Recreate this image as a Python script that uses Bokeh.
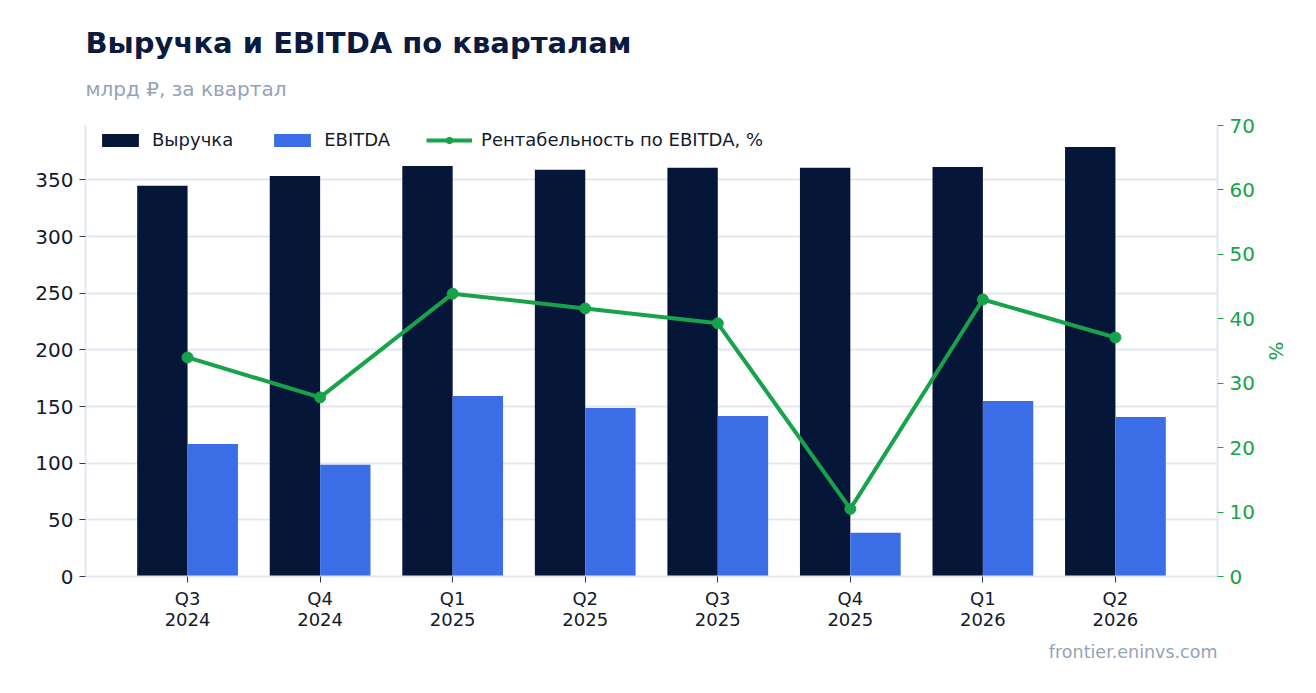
from bokeh.plotting import figure
from bokeh.models import (ColumnDataSource, Range1d, LinearAxis, FixedTicker,
                          Legend, LegendItem, Title)
from bokeh.transform import dodge
from bokeh.embed import file_html
from bokeh.resources import INLINE

quarters = ["Q3\n2024", "Q4\n2024", "Q1\n2025", "Q2\n2025",
            "Q3\n2025", "Q4\n2025", "Q1\n2026", "Q2\n2026"]
revenue = [344.7, 353.5, 362.3, 358.8, 360.6, 360.6, 361.4, 379.0]
ebitda = [117.0, 98.5, 159.2, 148.6, 141.6, 38.7, 154.8, 140.7]
margin = [34.0, 27.8, 43.9, 41.6, 39.3, 10.5, 43.0, 37.1]
y_ticks = [0, 50, 100, 150, 200, 250, 300, 350]
pct_ticks = [0, 10, 20, 30, 40, 50, 60, 70]

idx = list(range(len(quarters)))
src = ColumnDataSource(dict(x=idx, revenue=revenue, ebitda=ebitda, margin=margin))

NAVY = "#061639"
BLUE = "#3b6de6"
GREEN = "#16a34a"
GRID = "#e2e8f0"
FONT = "DejaVu Sans"

p = figure(width=1300, height=677, output_backend="svg", toolbar_location=None,
           x_range=Range1d(-0.77, len(quarters) - 1 + 0.77),
           y_range=Range1d(0, max(revenue) * 1.05),
           min_border_left=85, min_border_right=83,
           min_border_top=125, min_border_bottom=101)
p.extra_y_ranges = {"pct": Range1d(0, 70)}
p.outline_line_color = None
p.background_fill_color = "white"
p.border_fill_color = "white"

r1 = p.vbar(x=dodge("x", -0.19, range=p.x_range), top="revenue", width=0.38,
            source=src, fill_color=NAVY, line_color=None)
r2 = p.vbar(x=dodge("x", 0.19, range=p.x_range), top="ebitda", width=0.38,
            source=src, fill_color=BLUE, line_color=None)
r3 = p.line(x="x", y="margin", source=src, y_range_name="pct",
            line_color=GREEN, line_width=4)
r4 = p.scatter(x="x", y="margin", source=src, y_range_name="pct",
               size=11, fill_color=GREEN, line_color=GREEN)

# x axis
xa = p.xaxis[0]
xa.ticker = FixedTicker(ticks=idx)
xa.major_label_overrides = {i: q for i, q in zip(idx, quarters)}
xa.axis_line_color = GRID
xa.axis_line_width = 2
xa.major_tick_line_color = "#333a4d"
xa.major_tick_out = 6
xa.major_tick_in = 0
xa.minor_tick_line_color = None
xa.major_label_text_font = FONT
xa.major_label_text_font_size = "18px"
xa.major_label_text_line_height = 1.0
xa.major_label_text_color = "#141a2e"
xa.major_label_standoff = 5

# left axis
ya = p.yaxis[0]
ya.ticker = FixedTicker(ticks=y_ticks)
ya.axis_line_color = GRID
ya.axis_line_width = 2
ya.major_tick_line_color = "#333a4d"
ya.major_tick_out = 6
ya.major_tick_in = 0
ya.minor_tick_line_color = None
ya.major_label_text_font = FONT
ya.major_label_text_font_size = "20px"
ya.major_label_text_color = "#141a2e"
ya.major_label_standoff = 6

# right axis
ra = LinearAxis(y_range_name="pct", ticker=FixedTicker(ticks=pct_ticks),
                axis_label="%")
ra.axis_line_color = GRID
ra.axis_line_width = 2
ra.major_tick_line_color = GREEN
ra.major_tick_out = 6
ra.major_tick_in = 0
ra.minor_tick_line_color = None
ra.major_label_text_font = FONT
ra.major_label_text_font_size = "20px"
ra.major_label_text_color = GREEN
ra.major_label_standoff = 6
ra.axis_label_text_font = FONT
ra.axis_label_text_font_size = "20px"
ra.axis_label_text_font_style = "normal"
ra.axis_label_text_color = GREEN
ra.axis_label_standoff = 6
p.add_layout(ra, "right")

p.xgrid.grid_line_color = None
p.ygrid.grid_line_color = GRID
p.ygrid.grid_line_width = 2
p.ygrid.ticker = FixedTicker(ticks=y_ticks)

legend = Legend(items=[
    LegendItem(label="Выручка", renderers=[r1]),
    LegendItem(label="EBITDA", renderers=[r2]),
    LegendItem(label="Рентабельность по EBITDA, %", renderers=[r3, r4]),
], location=(12, 426), orientation="horizontal")
legend.background_fill_alpha = 0
legend.border_line_color = None
legend.label_text_font = FONT
legend.label_text_font_size = "18px"
legend.label_text_color = "#141a2e"
legend.glyph_width = 46
legend.glyph_height = 16
legend.label_standoff = 9
legend.spacing = 36
legend.margin = 0
legend.padding = 0
p.add_layout(legend)

spacer = Title(text=" ", text_font=FONT, text_font_size="10px", standoff=5)
p.add_layout(spacer, "above")
sub = Title(text="млрд ₽, за квартал", text_font=FONT, text_font_size="20px",
            text_font_style="normal", text_color="#94a3b8", align="left",
            standoff=14)
p.add_layout(sub, "above")
ttl = Title(text="Выручка и EBITDA по кварталам", text_font=FONT,
            text_font_size="29px", text_font_style="bold", text_color="#0b1a3f",
            align="left", standoff=16)
p.add_layout(ttl, "above")

foot = Title(text="frontier.eninvs.com", text_font=FONT, text_font_size="17.5px",
             text_font_style="normal", text_color="#94a3b8", align="right",
             standoff=14)
p.add_layout(foot, "below")

open("out.html", "w").write(file_html(p, INLINE))
